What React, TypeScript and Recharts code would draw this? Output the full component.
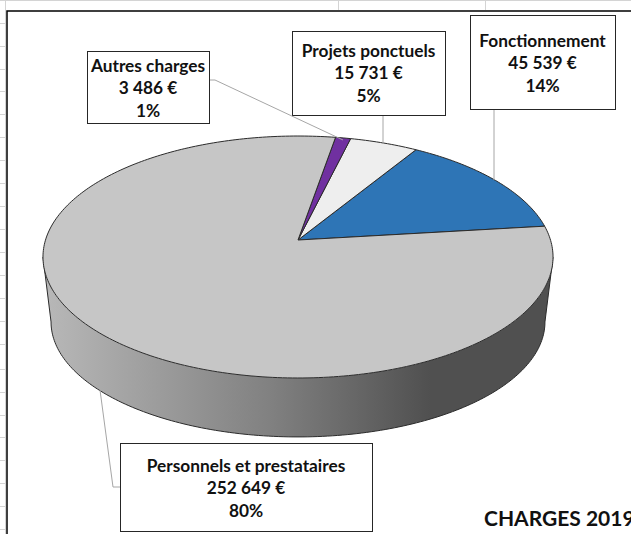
import { PieChart, Pie } from 'recharts';

const categories = ['Fonctionnement', 'Projets ponctuels', 'Autres charges', 'Personnels et prestataires'];
const amounts = [45539, 15731, 3486, 252649];
const sliceColors = ['#2e75b6', '#eeeeee', '#7030a0', '#c6c6c6'];
const gridRows = [23, 46, 69, 91, 114, 137, 160, 183, 206, 229, 252, 275, 298, 321, 344, 369, 392, 415, 437, 460, 483, 506, 529];
const gridCols = [338, 485];

const total = amounts.reduce((a, b) => a + b, 0);
const data = categories.map((name, i) => ({ name, value: amounts[i], fill: sliceColors[i] }));

// boxes and leader lines of the callouts, same order as categories
const boxes = [
    { x: 470, y: 15, w: 145, h: 94, line: '494,109 494,180', first: 40 },
    { x: 292, y: 31, w: 153, h: 84, line: '383,115 383,144', first: 50 },
    { x: 87, y: 51, w: 122, h: 72, line: '209,80 215,80 343,140', first: 65 },
    { x: 120, y: 443, w: 252, h: 88, line: '120,487 113,487 100,390', first: 465 },
];

// the pie lies flat, so each circle angle goes through a small perspective
const K = 0.1405;
const topDisc = { x: 298, y: 240, rx: 252.5, ry: 118.6 };
const lowDisc = { x: 298, y: 305.8, rx: 244.5, ry: 112.7 };
// angles of the left and right silhouette of the disc
const wallFrom = 188.08;
const wallTo = 351.92;

function project(d, deg) {
    const a = (deg * Math.PI) / 180;
    const w = 1 + K * Math.sin(a);
    return [d.x + (d.rx * Math.cos(a)) / w, d.y - (d.ry * Math.sin(a)) / w];
}

function arc(d, from, to) {
    const pts = [];
    const n = Math.max(2, Math.ceil(Math.abs(to - from)));
    for (let i = 0; i <= n; i++) {
        pts.push(project(d, from + ((to - from) * i) / n));
    }
    return pts;
}

const toLine = (pts) => 'M' + pts.map((p) => p[0].toFixed(2) + ',' + p[1].toFixed(2)).join('L');

function TopSlice(props) {
    const { startAngle, endAngle, fill } = props;
    const pts = [[topDisc.x, topDisc.y], ...arc(topDisc, startAngle, endAngle)];
    return <path d={toLine(pts) + 'Z'} fill={fill} stroke="#2b2b2b" strokeWidth={1} strokeLinejoin="round" />;
}

function WallSlice(props) {
    const from = Math.max(props.startAngle, wallFrom);
    const to = Math.min(props.endAngle, wallTo);
    if (to <= from) return null;
    const up = arc(topDisc, from, to);
    const low = arc(lowDisc, from, to);
    let quads = '';
    for (let i = 0; i < up.length - 1; i++) {
        quads += toLine([up[i], up[i + 1], low[i + 1], low[i]]) + 'Z';
    }
    const outline = [up[0], ...low, up[up.length - 1]];
    return (
        <g>
            <path d={quads} fill="url(#wall)" stroke="none" />
            <path d={toLine(outline)} fill="none" stroke="#2b2b2b" strokeWidth={1} strokeLinejoin="round" />
        </g>
    );
}

function Callout(props) {
    const i = props.index;
    const b = boxes[i];
    const money = String(amounts[i]).replace(/\B(?=(\d{3})+$)/g, ' ') + ' €';
    const pct = Math.round((amounts[i] / total) * 100) + '%';
    const lines = [categories[i], money, pct];
    return (
        <g>
            <polyline points={b.line} fill="none" stroke="#a6a6a6" strokeWidth={1} />
            <rect x={b.x + 0.5} y={b.y + 0.5} width={b.w} height={b.h} fill="#fff" stroke="#262626" strokeWidth={1} />
            {lines.map((t, j) => (
                <text
                    key={j}
                    x={b.x + b.w / 2}
                    y={b.first + j * 22.7}
                    textAnchor="middle"
                    dominantBaseline="central"
                    fontFamily="Lato"
                    fontWeight={700}
                    fontSize={17.3}
                    fill="#111"
                >
                    {t}
                </text>
            ))}
        </g>
    );
}

export default function App() {
    return (
        <div style={{ position: 'absolute', left: 0, top: 0, width: 631, height: 534, overflow: 'hidden', background: '#fff' }}>
            <svg width={631} height={534} style={{ position: 'absolute', left: 0, top: 0 }}>
                <line x1={0} y1={0.5} x2={631} y2={0.5} stroke="#d4d4d4" />
                <line x1={5.5} y1={0} x2={5.5} y2={534} stroke="#d4d4d4" />
                {gridRows.map((y) => (
                    <line key={y} x1={0} y1={y + 0.5} x2={6} y2={y + 0.5} stroke="#d4d4d4" />
                ))}
                {gridCols.map((x) => (
                    <line key={x} x1={x + 0.5} y1={0} x2={x + 0.5} y2={10} stroke="#d4d4d4" />
                ))}
                <rect x={7} y={11} width={640} height={540} fill="#fff" stroke="#000" strokeWidth={1.5} />
            </svg>
            <div style={{ position: 'absolute', left: 0, top: 0 }}>
                <PieChart width={631} height={534} margin={{ top: 0, right: 0, bottom: 0, left: 0 }}>
                    <defs>
                        <linearGradient id="wall" gradientUnits="userSpaceOnUse" x1={44} y1={0} x2={552} y2={0}>
                            <stop offset="0" stopColor="#b8b8b8" />
                            <stop offset="0.45" stopColor="#808080" />
                            <stop offset="0.76" stopColor="#505050" />
                            <stop offset="1" stopColor="#505050" />
                        </linearGradient>
                    </defs>
                    <Pie
                        data={data}
                        dataKey="value"
                        cx={298}
                        cy={240}
                        outerRadius={120}
                        startAngle={6.8}
                        endAngle={366.8}
                        shape={WallSlice}
                        isAnimationActive={false}
                    />
                    <Pie
                        data={data}
                        dataKey="value"
                        cx={298}
                        cy={240}
                        outerRadius={120}
                        startAngle={6.8}
                        endAngle={366.8}
                        shape={TopSlice}
                        label={Callout}
                        labelLine={false}
                        isAnimationActive={false}
                    />
                </PieChart>
            </div>
            <svg width={631} height={534} style={{ position: 'absolute', left: 0, top: 0, pointerEvents: 'none' }}>
                <text x={484} y={526} fontFamily="Lato" fontWeight={700} fontSize={21} fill="#111">
                    CHARGES 2019
                </text>
            </svg>
        </div>
    );
}
